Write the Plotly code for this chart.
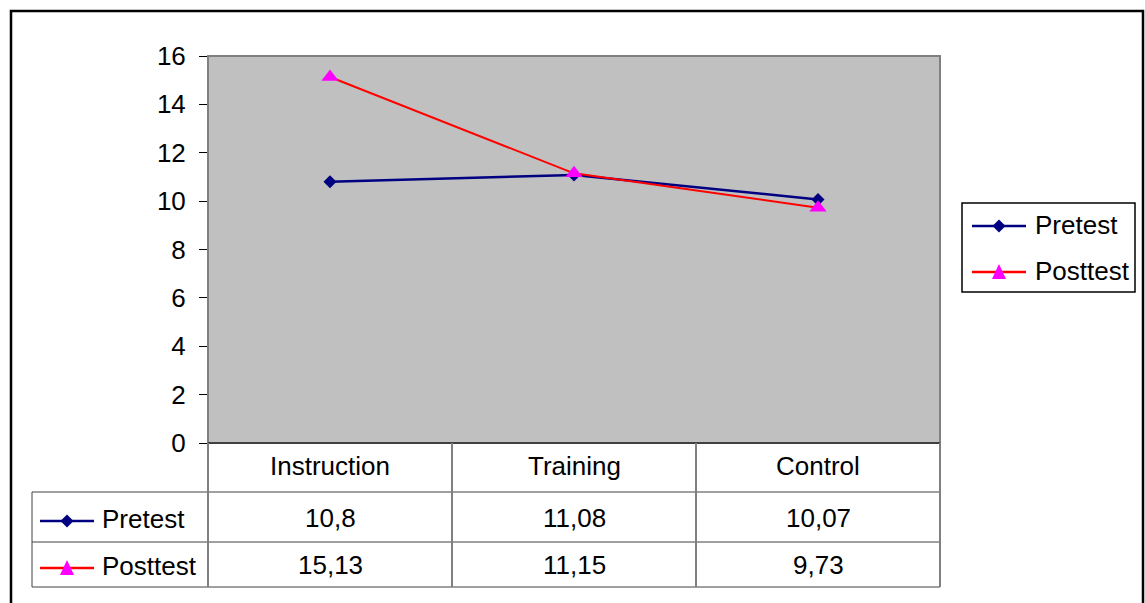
import plotly.graph_objects as go

# Data
categories = ["Instruction", "Training", "Control"]
series_names = ["Pretest", "Posttest"]
pretest = [10.8, 11.08, 10.07]
posttest = [15.13, 11.15, 9.73]
y_ticks = [0, 2, 4, 6, 8, 10, 12, 14, 16]

# Figure geometry (pixels)
W, H = 1145, 603
L, R, T, B = 208, 940, 56, 443          # plot area edges
FONT = "Liberation Sans, Arial, sans-serif"
FS = 26


def px(x):
    return (x - L) / (R - L)


def py(y):
    return (B - y) / (B - T)


styles = {
    "Pretest": dict(line="#000080", marker="#000080", symbol="diamond"),
    "Posttest": dict(line="#FF0000", marker="#FF00FF", symbol="triangle-up"),
}
values = {"Pretest": pretest, "Posttest": posttest}

fig = go.Figure()
for name in series_names:
    st = styles[name]
    fig.add_trace(go.Scatter(
        x=categories, y=values[name], name=name, mode="lines+markers",
        line=dict(color=st["line"], width=2.5 if name == "Pretest" else 2),
        marker=dict(symbol=st["symbol"], color=st["marker"],
                    size=10 if name == "Pretest" else 15, line=dict(width=0)),
        showlegend=False,
    ))

shapes = []
annotations = []


def hline(x0, x1, y, color, width):
    shapes.append(dict(type="line", xref="paper", yref="paper",
                       x0=px(x0), x1=px(x1), y0=py(y), y1=py(y),
                       line=dict(color=color, width=width)))


def vline(x, y0, y1, color, width):
    shapes.append(dict(type="line", xref="paper", yref="paper",
                       x0=px(x), x1=px(x), y0=py(y0), y1=py(y1),
                       line=dict(color=color, width=width)))


def key(cx, cy, name):
    """Legend key: short line with the series marker in the middle."""
    st = styles[name]
    hline(cx - 27, cx + 27, cy, st["line"], 2.5)
    if st["symbol"] == "diamond":
        d = 6.5
        pts = [(cx, cy - d), (cx + d, cy), (cx, cy + d), (cx - d, cy)]
    else:
        pts = [(cx, cy - 8), (cx + 7, cy + 7), (cx - 7, cy + 7)]
    path = "M " + " L ".join(f"{px(x):.5f},{py(y):.5f}" for x, y in pts) + " Z"
    shapes.append(dict(type="path", xref="paper", yref="paper", path=path,
                       fillcolor=st["marker"], line=dict(width=0)))


def text(x, y, s, xanchor="center", xref="paper"):
    annotations.append(dict(x=x if xref != "paper" else px(x), y=py(y),
                            xref=xref, yref="paper", text=s, showarrow=False,
                            xanchor=xanchor, yanchor="middle",
                            font=dict(family=FONT, size=FS, color="black")))


# Outer chart frame
shapes.append(dict(type="rect", xref="paper", yref="paper",
                   x0=px(11), x1=px(1143), y0=py(11), y1=py(640),
                   line=dict(color="black", width=2.5)))

# Plot area frame
shapes.append(dict(type="rect", xref="paper", yref="paper",
                   x0=0, x1=1, y0=0, y1=1, line=dict(color="#808080", width=2)))
hline(L, R, B, "#404040", 2)

# Data table grid
row_y = [B, 492, 542, 587]
col_x = [L, 452, 696, R]
for y in row_y[1:]:
    hline(32, R, y, "#404040", 1)
for x in col_x:
    vline(x, B, row_y[-1], "#808080", 2)
vline(32, row_y[1], row_y[-1], "#404040", 1)

# Table header: category names
for c in categories:
    text(c, 466, c, xref="x")

# Table rows: key, series name, values
row_centers = [518, 565]
for name, yc in zip(series_names, row_centers):
    key(67, yc + 3, name)
    text(100, yc + 1, name, xanchor="left")
    for c, v in zip(categories, values[name]):
        text(c, yc, f"{v:g}".replace(".", ","), xref="x")

# Legend box
shapes.append(dict(type="rect", xref="paper", yref="paper",
                   x0=px(962), x1=px(1135), y0=py(203), y1=py(292),
                   line=dict(color="black", width=1.5), fillcolor="white"))
for name, yc in zip(series_names, [225, 271]):
    key(999, yc + 1, name)
    text(1033, yc, name, xanchor="left")

fig.update_layout(
    width=W, height=H,
    margin=dict(l=L, r=W - R, t=T, b=H - B, pad=0),
    paper_bgcolor="white", plot_bgcolor="#C0C0C0",
    font=dict(family=FONT, size=FS, color="black"),
    shapes=shapes, annotations=annotations,
    xaxis=dict(range=[-0.5, 2.5], showticklabels=False, ticks="",
               showgrid=False, zeroline=False, showline=False, fixedrange=True),
    yaxis=dict(range=[0, 16], tickvals=y_ticks, ticks="outside", ticklen=8,
               tickcolor="black", tickwidth=1, showgrid=False, zeroline=False,
               showline=False, tickfont=dict(family=FONT, size=FS, color="black"),
               ticklabelstandoff=8, fixedrange=True),
)

fig.write_html("out.html")
